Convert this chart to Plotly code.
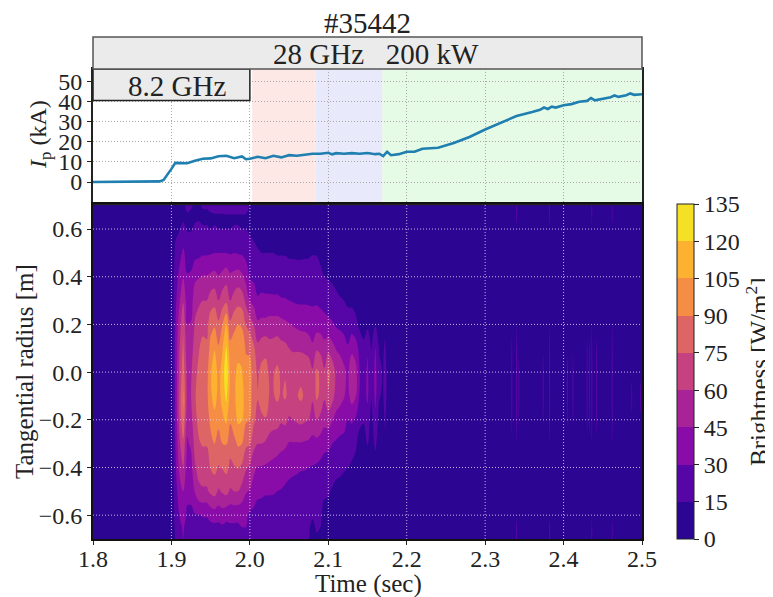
import numpy as np
import plotly.graph_objects as go

FONT = "Liberation Serif"

# Plasma current trace
ip_time = [1.8,1.82,1.84,1.86,1.88,1.885,1.89,1.895,1.90,1.905,1.91,1.92,1.93,1.94,1.95,1.96,1.97,1.98,1.99,1.995,
           2.0,2.01,2.02,2.03,2.04,2.05,2.06,2.07,2.08,2.09,2.10,2.105,2.11,2.12,2.13,2.14,2.15,2.16,2.165,2.17,
           2.175,2.18,2.19,2.2,2.21,2.22,2.24,2.26,2.28,2.30,2.32,2.34,2.36,2.37,2.375,2.38,2.385,2.39,2.40,2.41,2.42,2.43,2.435,2.44,2.46,2.465,2.47,2.48,2.485,2.49,2.5]
ip_kA = [0,0.1,0,0.1,0.1,0.3,1,3.5,6.5,9.5,9.5,9.3,10.5,11.5,11.7,12.8,13,11.8,12.7,11.3,
         11.5,12.5,11.8,13,12.2,13.3,13,13.5,14,14,14.5,13.7,14.3,14,14.3,14,14.4,13.8,14,12.8,
         15,13.3,13.8,15,15,16.5,17,19.3,22.3,26,29.3,32.7,34.7,35.8,36.9,36.2,37.3,36.9,38,38.6,39.8,40.2,41.6,40.5,42.0,42.9,42.2,43.0,43.9,43.2,43.5]

# Heating phases on the top panel
phase_edges = [2.003, 2.084, 2.169, 2.5]
phase_colors = ["#fde8e6", "#e8e9fb", "#e6fbe6"]
box_82_edges = [1.8, 2.0]
box_82_bottom = 40.4

x_ticks = [1.8,1.9,2.0,2.1,2.2,2.3,2.4,2.5]
ip_ticks = [0,10,20,30,40,50]
r_ticks = [-0.6,-0.4,-0.2,0.0,0.2,0.4,0.6]
cb_ticks = list(range(0,136,15))
band_colors = ["#2c0592","#5606a6","#8a0ca8","#a92398","#c6417f","#dd6566","#f68d45","#fcb130","#f4e024"]

# Brightness (W/m2). Radii, top to bottom:
radius = [0.7,0.65,0.6,0.5,0.4,0.3,0.2,0.1,0.0,-0.1,-0.2,-0.3,-0.4,-0.5,-0.6,-0.65,-0.7]
main_time = [1.8,1.9,1.902,1.905,1.91,1.915,1.92,1.925,1.93,1.935,1.94,1.945,1.95,1.955,1.96,1.965,1.97,1.975,1.98,1.985,
             1.99,1.995,2.0,2.005,2.01,2.015,2.02,2.025,2.03,2.035,2.04,2.045,2.05,2.055,2.06,2.065,2.07,2.075,2.08,2.085,
             2.09,2.095,2.1,2.105,2.11,2.115,2.12,2.125,2.13,2.135,2.14,2.145,2.15,2.155,2.16,2.165,2.17,2.1724,2.175]
main_rows = [
 [3,3,3,3,3,3,3,3,3,3,3,3,3,3,3,3,3],
 [5,5,5,5,5,6,6,6,6,6,6,6,5,5,5,5,5],
 [7,7,8,10,11,12,13,14,14,14,14,13,12,11,10,9,8],
 [10,10,13,17,22,26,30,32,32,33,32,30,27,23,20,18,16],
 [11,11,14,24,34,42,52,58,62,66,64,56,48,38,30,26,22],
 [13,13,18,33,44,59,72,78,84,92,88,72,60,45,36,32,30],
 [18,13,14,24,31,38,45,50,55,56,50,43,38,33,28,24,20],
 [16,13,14,24,32,38,46,52,58,60,54,47,40,34,27,22,18],
 [14,13,17,25,42,54,62,68,72,74,72,66,58,46,29,24,20],
 [14,13,19,26,44,58,66,74,78,80,78,74,66,56,29,24,20],
 [16,13,16,28,46,60,70,80,86,88,84,76,68,58,31,25,20],
 [16,13,16,28,46,60,70,78,84,86,82,76,68,58,31,25,20],
 [18,13,15,29,48,68,84,96,103,102,94,85,76,63,36,25,20],
 [20,13,16,30,50,70,88,104,114,112,100,90,79,66,38,26,20],
 [20,13,15,30,46,60,78,92,100,100,94,84,74,58,36,26,20],
 [20,13,15,30,50,68,90,104,110,110,102,90,76,62,38,28,22],
 [22,13,15,30,54,72,105,122,133,124,108,91,79,65,34,27,22],
 [22,13,15,29,48,60,78,96,102,100,92,80,72,58,34,28,22],
 [22,13,16,30,50,66,86,98,103,102,98,86,74,60,34,28,22],
 [22,13,16,29,52,70,90,102,107,112,108,92,76,60,34,28,24],
 [22,13,15,28,48,68,88,100,106,110,106,90,72,54,34,30,28],
 [20,13,15,25,40,56,74,88,96,98,92,78,62,46,33,30,28],
 [14,11,13,20,28,44,68,88,94,94,90,76,58,44,27,22,18],
 [14,11,12,18,27,40,60,78,84,84,78,64,50,36,27,23,20],
 [13,10,11,16,26,31,48,64,72,76,70,60,44,32,26,23,20],
 [13,10,11,15,26,32,50,68,80,82,72,60,44,32,25,22,20],
 [12,10,11,15,25,32,50,70,82,84,74,58,43,31,25,22,19],
 [12,10,11,15,25,32,52,65,72,74,68,54,42,31,25,22,19],
 [12,9,10,15,24,32,52,66,74,74,66,52,41,31,24,21,19],
 [11,9,10,14,24,32,52,68,78,78,66,50,40,30,24,21,18],
 [11,9,10,14,23,31,50,65,72,73,62,48,39,29,23,20,18],
 [10,9,10,14,22,31,48,64,74,77,64,47,37,27,22,20,18],
 [9,8,9,13,21,30,46,60,70,71,58,44,34,26,20,18,17],
 [8,8,9,13,21,29,44,58,70,72,60,44,33,25,19,18,16],
 [8,8,9,13,20,28,42,58,72,74,62,44,32,25,18,17,16],
 [8,8,9,13,20,28,40,58,70,78,64,44,31,24,18,17,16],
 [7,8,9,13,21,28,40,56,72,73,62,43,31,23,18,16,15],
 [7,8,9,13,22,28,38,54,70,70,60,42,30,22,17,16,15],
 [7,8,9,14,24,28,36,48,62,62,54,40,29,21,16,13,15],
 [7,8,9,14,22,28,38,58,78,78,60,40,28,20,17,16,14],
 [7,7,8,12,18,26,38,56,72,72,56,38,26,18,16,15,14],
 [7,7,8,10,15,24,36,50,62,62,50,34,24,16,13,13,13],
 [6,6,7,9,14,22,34,56,78,74,52,34,22,16,12,13,14],
 [6,6,7,9,13,20,32,50,70,66,46,30,20,14,10,10,11],
 [6,6,7,8,11,18,28,44,56,54,40,28,18,12,8,8,9],
 [6,6,7,8,10,16,26,42,52,50,38,26,17,12,8,8,8],
 [6,6,7,8,10,15,24,38,48,46,36,25,16,11,8,7,7],
 [6,6,6,7,9,13,20,32,42,40,30,22,15,10,7,7,7],
 [6,6,6,7,9,12,22,42,54,52,32,20,13,9,7,6,6],
 [6,6,6,7,8,11,18,38,50,46,28,17,11,8,6,6,6],
 [6,6,6,6,7,9,12,24,30,28,18,10,8,7,6,6,6],
 [6,6,6,6,7,8,10,18,22,22,16,10,7,6,6,6,6],
 [6,6,6,6,7,8,12,28,33,33,24,16,8,6,6,6,6],
 [6,6,6,6,6,7,10,14,16,16,10,8,6,6,6,6,6],
 [6,6,6,6,6,7,14,30,35,34,26,18,8,6,6,6,6],
 [6,6,6,6,6,7,10,14,18,16,10,7,6,6,6,6,6],
 [6,6,6,6,6,6,9,13,14,13,9,6,6,6,6,6,6],
 [6,6,6,6,6,6,10,18,32,30,18,12,6,6,6,6,6],
 [6,6,6,6,6,6,6,6,7,7,6,6,6,6,6,6,6],
]

# Small late bursts after the main emission
quiet_row = [6,6,6,6,6,6,6,6,7,7,6,6,6,6,6,6,6]
tall_row = [24,22,12,6,6,6,16,24,26,26,24,16,6,6,12,22,24]
mid_row = [12,9,6,6,6,6,10,20,26,26,22,10,6,6,9,12,14]
low_row = [6,6,6,6,6,6,6,12,24,26,18,6,6,6,6,6,6]
faint_row = [6,6,6,6,6,6,6,6,10,24,12,6,6,6,6,6,6]
burst_time = [2.334,2.34,2.343,2.374,2.382,2.405,2.412,2.43,2.433,2.436,2.442,2.462,2.487,2.498]
burst_rows = [mid_row,tall_row,low_row,low_row,tall_row,low_row,low_row,mid_row,mid_row,tall_row,mid_row,tall_row,faint_row,faint_row]
late_gap = 0.0012

cols = {t: r for t, r in zip(main_time, main_rows)}
for t, r in zip(burst_time, burst_rows):
    cols[round(t - late_gap, 4)] = quiet_row
    cols[round(t + late_gap, 4)] = quiet_row
for t, r in zip(burst_time, burst_rows):
    cols[t] = r
cols[2.5] = quiet_row
t_all = sorted(cols)
z = np.array([cols[t] for t in t_all], dtype=float).T

# Page geometry (the page body adds 8 px on the left and top)
H_TOP, H_BOT = 135, 335
total = 502.0
dom_low = [0, H_BOT/total]
dom_up = [H_BOT/total, (H_BOT+H_TOP)/total]
def px(x): return (x-93)/549
def py(y): return (539-y)/502

n = len(band_colors)
colorscale = []
for i, c in enumerate(band_colors):
    colorscale += [[i/n, c], [(i+1)/n, c]]

tf = dict(family=FONT, size=24, color="#222")
big = dict(family=FONT, size=29, color="#222")

fig = go.Figure()
fig.add_trace(go.Contour(
    x=t_all, y=radius, z=z, xaxis="x2", yaxis="y2",
    colorscale=colorscale, zmin=0, zmax=135, autocontour=False,
    contours=dict(start=0, end=135, size=15, coloring="fill", showlines=False),
    line=dict(width=0), hoverinfo="skip",
    colorbar=dict(
        x=1+35/549, xanchor="left", y=0, yanchor="bottom", len=H_BOT/total, lenmode="fraction",
        thickness=17, ypad=0, xpad=0, outlinecolor="#222", outlinewidth=1,
        tickmode="array", tickvals=cb_ticks, ticks="outside", ticklen=5, tickcolor="#222",
        tickfont=tf,
    ),
))
fig.add_trace(go.Scatter(x=ip_time, y=ip_kA, mode="lines", xaxis="x", yaxis="y",
                         line=dict(color="#1f7fb0", width=2.6), hoverinfo="skip", showlegend=False))

shapes = []
for i, c in enumerate(phase_colors):
    shapes.append(dict(type="rect", xref="x", yref="y domain", x0=phase_edges[i], x1=phase_edges[i+1], y0=0, y1=1,
                       fillcolor=c, line=dict(width=0), layer="below"))
shapes.append(dict(type="rect", xref="x", yref="paper", x0=box_82_edges[0], x1=box_82_edges[1],
                   y0=dom_up[0]+H_TOP/total*(box_82_bottom+10.9)/66.9, y1=dom_up[1],
                   fillcolor="#ebebeb", line=dict(color="#222", width=1.5)))
shapes.append(dict(type="rect", xref="paper", yref="paper", x0=0, x1=1, y0=dom_up[1], y1=1,
                   fillcolor="#ebebeb", line=dict(color="#555", width=1.5)))
grid = dict(color="rgba(235,225,250,0.8)", width=1, dash="1px,2px")
for t in x_ticks[1:-1]:
    shapes.append(dict(type="line", xref="x2", yref="y2 domain", x0=t, x1=t, y0=0, y1=1, line=grid, layer="above"))
for r in r_ticks:
    shapes.append(dict(type="line", xref="x2 domain", yref="y2", x0=0, x1=1, y0=r, y1=r, line=grid, layer="above"))

def note(text, x, y, font, angle=0):
    return dict(text=text, xref="paper", yref="paper", x=px(x), y=py(y), xanchor="center", yanchor="middle",
                showarrow=False, font=font, textangle=angle)

fig.update_layout(
    width=773, height=597, autosize=False,
    margin=dict(l=85, r=139, t=29, b=66),
    paper_bgcolor="white", plot_bgcolor="white", showlegend=False,
    font=dict(family=FONT, color="#222"),
    shapes=shapes,
    annotations=[
        note("#35442", 367, 23, big),
        note("28 GHz\u00a0\u00a0\u00a0200 kW", 376, 54, big),
        note("8.2 GHz", 177, 86, big),
        note("<i>I</i><sub>p</sub> (kA)", 40, 135, tf, -90),
        note("Tangential radius [m]", 24, 372, dict(family=FONT, size=25, color="#222"), -90),
        note("Time (sec)", 368, 584, dict(family=FONT, size=25, color="#222")),
        note("Brightness [W/m<sup>2</sup>]", 757, 372, dict(family=FONT, size=25, color="#222"), -90),
    ],
    xaxis=dict(domain=[0,1], anchor="y", range=[1.8,2.5], tickmode="array", tickvals=x_ticks, showticklabels=False,
               ticks="", showgrid=True, griddash="1px,2px", gridcolor="#a8a8a8", gridwidth=1, zeroline=False,
               showline=True, mirror=True, linecolor="#222", linewidth=2),
    yaxis=dict(domain=dom_up, anchor="x", range=[-10.9,56], tickmode="array", tickvals=ip_ticks,
               ticks="outside", ticklen=4, tickcolor="#222", tickfont=tf,
               showgrid=True, griddash="1px,2px", gridcolor="#a8a8a8", gridwidth=1, zeroline=False,
               showline=True, mirror=True, linecolor="#222", linewidth=2),
    xaxis2=dict(domain=[0,1], anchor="y2", range=[1.8,2.5], tickmode="array", tickvals=x_ticks, tickformat=".1f",
                ticks="outside", ticklen=4, tickcolor="#222", tickfont=tf, ticklabelstandoff=-7,
                showgrid=False, zeroline=False, showline=True, mirror=True, linecolor="#111", linewidth=2),
    yaxis2=dict(domain=dom_low, anchor="x2", range=[-0.70,0.705], tickmode="array", tickvals=r_ticks, tickformat=".1f",
                ticks="outside", ticklen=4, tickcolor="#222", tickfont=tf,
                showgrid=False, zeroline=False, showline=True, mirror=True, linecolor="#111", linewidth=2),
)
fig.write_html("out.html")
